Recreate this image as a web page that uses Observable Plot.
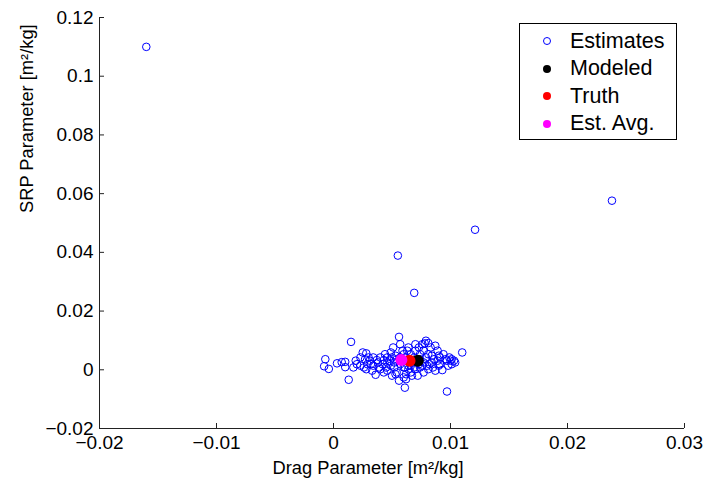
<!DOCTYPE html>
<html>
<head>
<meta charset="utf-8">
<script src="https://cdn.jsdelivr.net/npm/d3@7"></script>
<script src="https://cdn.jsdelivr.net/npm/@observablehq/plot@0.6"></script>
<style>
  html, body { margin: 0; padding: 0; background: white; }
  #wrap { position: relative; width: 705px; height: 488px; font-family: "Liberation Sans", Arial, sans-serif; }
  #legend { position: absolute; left: 519px; top: 23px; width: 156px; height: 115px; border: 1px solid #000; background: #fff; }
  .row { position: absolute; left: 0; height: 24px; display: flex; align-items: center; font-size: 21.5px; color: #000; }
  .mk { position: absolute; left: 23px; width: 8px; height: 8px; border-radius: 50%; box-sizing: border-box; }
  .lbl { position: absolute; left: 50px; white-space: nowrap; }
</style>
</head>
<body>
<div id="wrap"></div>
<script>
// Estimates (Drag, SRP)
const estDrag = [
  -0.0160, 0.0238, 0.0121, 0.0055, 0.0069,
  -0.0007, -0.0008, -0.0004, 0.0003, 0.0007, 0.0010, 0.0010, 0.0015, 0.0013, 0.0019,
  0.0023, 0.0025, 0.0028, 0.0027, 0.0030, 0.0032, 0.0028, 0.0033, 0.0036, 0.0037,
  0.0040, 0.0042, 0.0044, 0.0045, 0.0046, 0.0049, 0.0048, 0.0051, 0.0052, 0.0053,
  0.0054, 0.0056, 0.0057, 0.0059, 0.0060, 0.0062, 0.0061, 0.0062, 0.0064, 0.0066,
  0.0066, 0.0069, 0.0070, 0.0072, 0.0073, 0.0074, 0.0076, 0.0077, 0.0077, 0.0079,
  0.0078, 0.0081, 0.0081, 0.0082, 0.0084, 0.0085, 0.0087, 0.0089, 0.0089, 0.0090,
  0.0091, 0.0093, 0.0094, 0.0096, 0.0097, 0.0099, 0.0100, 0.0101, 0.0103, 0.0097,
  0.0110, 0.0061, 0.0050, 0.0053, 0.0043, 0.0039, 0.0034, 0.0031, 0.0026, 0.0020,
  0.0017, 0.0057, 0.0063, 0.0067, 0.0072, 0.0074, 0.0077, 0.0080, 0.0084, 0.0086,
  0.0087, 0.0090, 0.0083, 0.0069, 0.0064, 0.0046, 0.0043, 0.0038, 0.0034, 0.0029,
  0.0023, 0.0056, 0.0057, 0.0050, 0.0060, 0.0066, 0.0070, 0.0073, 0.0079, 0.0081,
  0.0076, 0.0091, 0.0098, 0.0101, 0.0104, 0.0052, 0.0054, 0.0046, 0.0040, 0.0049,
  0.0063, 0.0067, 0.0062, 0.0074, 0.0070, 0.0064, 0.0060
];
const estSRP = [
  0.1100, 0.0576, 0.0477, 0.0389, 0.0262,
  0.0036, 0.0012, 0.0003, 0.0022, 0.0026, 0.0027, 0.0009, 0.0095, -0.0034, 0.0031,
  0.0014, 0.0059, 0.0056, 0.0036, 0.0042, 0.0019, 0.0002, -0.0003, -0.0017, 0.0033,
  0.0042, 0.0019, 0.0053, 0.0008, -0.0003, 0.0059, 0.0031, 0.0076, 0.0008, 0.0048,
  -0.0009, 0.0112, 0.0087, 0.0065, 0.0008, -0.0015, -0.0061, -0.0032, 0.0076, 0.0053,
  -0.0009, 0.0008, 0.0065, -0.0020, 0.0076, 0.0008, 0.0087, 0.0065, -0.0009, 0.0099,
  0.0090, 0.0091, 0.0053, 0.0019, 0.0048, 0.0008, 0.0082, 0.0031, 0.0065, 0.0014,
  0.0042, -0.0001, 0.0053, 0.0036, 0.0031, 0.0042, 0.0031, 0.0036, 0.0031, -0.0074,
  0.0059, 0.0008, -0.0020, -0.0015, -0.0009, 0.0008, 0.0014, 0.0031, 0.0008, 0.0019,
  0.0008, 0.0019, 0.0031, 0.0025, 0.0031, 0.0036, 0.0025, 0.0014, 0.0025, 0.0036,
  -0.0003, 0.0048, 0.0076, 0.0042, 0.0014, 0.0025, 0.0033, 0.0025, 0.0042, 0.0019,
  0.0042, -0.0037, 0.0042, 0.0042, 0.0053, 0.0014, 0.0002, 0.0019, 0.0042, 0.0002,
  0.0014, 0.0019, 0.0014, 0.0019, 0.0025, 0.0025, 0.0036, 0.0042, 0.0002, 0.0014,
  0.0065, -0.0020, 0.0042, 0.0053, 0.0087, 0.0002, -0.0026
];
const modeled = {drag: 0.0072, srp: 0.0031};
const truth   = {drag: 0.0065, srp: 0.0031};
const estAvg  = {drag: 0.0058, srp: 0.0033};

const xTicks = [-0.02, -0.01, 0, 0.01, 0.02, 0.03];
const yTicks = [-0.02, 0, 0.02, 0.04, 0.06, 0.08, 0.1, 0.12];
const xTitle = "Drag Parameter [m²/kg]";
const yTitle = "SRP Parameter [m²/kg]";
const legendLabels = ["Estimates", "Modeled", "Truth", "Est. Avg."];
const colors = {est: "#0000ff", modeled: "#000000", truth: "#ff0000", avg: "#ff00ff"};

const estimates = estDrag.map((d, i) => ({drag: d, srp: estSRP[i]}));
const fmt = d3.format("~g");

const W = 705, H = 488, mL = 99, mR = 21, mT = 17, mB = 60;
const pw = W - mL - mR, ph = H - mT - mB;

const chart = Plot.plot({
  width: W, height: H,
  marginLeft: mL, marginRight: mR, marginTop: mT, marginBottom: mB,
  x: {domain: [xTicks[0], xTicks[xTicks.length - 1]]},
  y: {domain: [yTicks[0], yTicks[yTicks.length - 1]]},
  style: {fontFamily: "'Liberation Sans', Arial, sans-serif", fontSize: "19px", color: "#000", background: "#fff", overflow: "visible"},
  marks: [
    Plot.axisX(xTicks, {tickSize: 0, tickPadding: 7, tickFormat: fmt, label: null, fontSize: 19}),
    Plot.axisY(yTicks, {tickSize: 0, tickPadding: 6, tickFormat: fmt, label: null, fontSize: 19}),
    Plot.tickX(xTicks, {x: d => d, insetTop: ph - 5, stroke: "#222"}),
    Plot.tickY(yTicks, {y: d => d, insetRight: pw - 5, stroke: "#222"}),
    Plot.ruleX([xTicks[0]], {stroke: "#222"}),
    Plot.ruleY([yTicks[0]], {stroke: "#222"}),
    Plot.text([xTitle], {frameAnchor: "bottom", dx: -24, dy: 45, fontSize: 18.3, fill: "#000"}),
    Plot.text([yTitle], {frameAnchor: "left", dx: -72, dy: -10, rotate: -90, fontSize: 18.3, fill: "#000"}),
    Plot.dot(estimates, {x: "drag", y: "srp", r: 3.8, stroke: colors.est, strokeWidth: 1, fill: "none"}),
    Plot.dot([modeled], {x: "drag", y: "srp", r: 6, fill: colors.modeled, stroke: "none"}),
    Plot.dot([truth], {x: "drag", y: "srp", r: 6, fill: colors.truth, stroke: "none"}),
    Plot.dot([estAvg], {x: "drag", y: "srp", r: 6, fill: colors.avg, stroke: "none"})
  ]
});

const wrap = document.getElementById("wrap");
wrap.appendChild(chart);

const legend = document.createElement("div");
legend.id = "legend";
const legendColors = [colors.est, colors.modeled, colors.truth, colors.avg];
legendLabels.forEach((lab, i) => {
  const row = document.createElement("div");
  row.className = "row";
  row.style.top = (5 + i * 27.5) + "px";
  const mk = document.createElement("div");
  mk.className = "mk";
  if (i === 0) { mk.style.border = "1.2px solid " + legendColors[i]; }
  else { mk.style.background = legendColors[i]; }
  mk.style.top = "8px";
  const tx = document.createElement("span");
  tx.className = "lbl";
  tx.textContent = lab;
  row.appendChild(mk);
  row.appendChild(tx);
  legend.appendChild(row);
});
wrap.appendChild(legend);
</script>
</body>
</html>
